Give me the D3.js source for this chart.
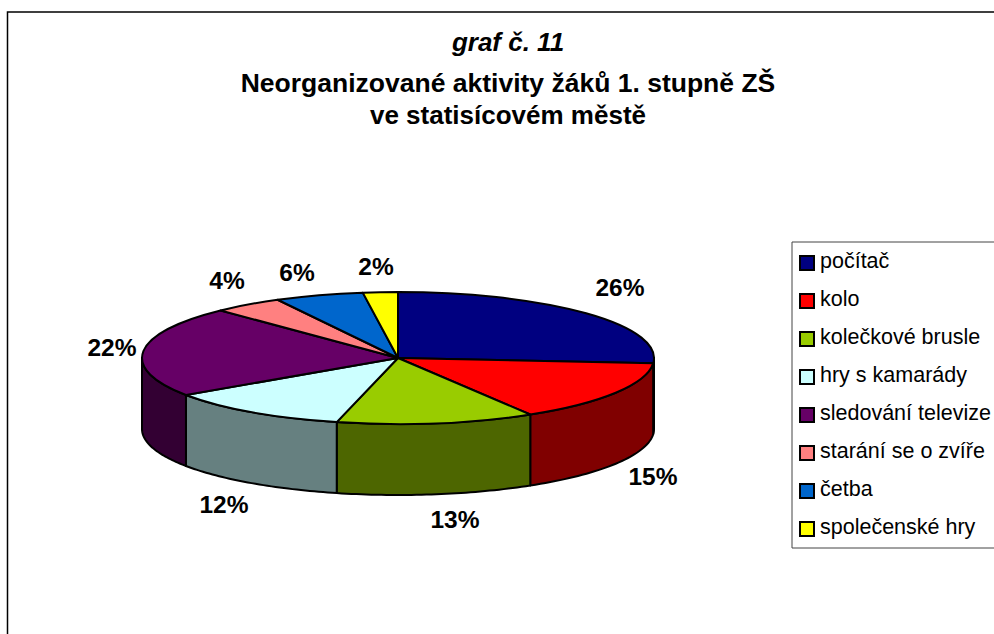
<!DOCTYPE html>
<html><head><meta charset="utf-8">
<script src="https://cdn.jsdelivr.net/npm/d3@7"></script>
<style>html,body{margin:0;padding:0;background:#fff}svg{display:block}text{font-family:"Liberation Sans",Arial,sans-serif;fill:#000}</style>
</head><body><svg id="c" width="994" height="634"></svg>
<script>
const categories=["počítač","kolo","kolečkové brusle","hry s kamarády","sledování televize","starání se o zvíře","četba","společenské hry"];
const values=[26.3,15.1,12.5,11.7,22.3,4.4,5.6,2.2];
const topColors=["#000080","#FF0000","#99CC00","#CCFFFF","#660066","#FF8080","#0066CC","#FFFF00"];
const sideColors=["#000040","#800000","#4D6600","#668080","#330033","#804040","#003366","#808000"];
const titleLines=["graf č. 11","Neorganizované aktivity žáků 1. stupně ZŠ","ve statisícovém městě"];

const W=994,H=634,cx=398,cy=358,rx=256,ry=66,depth=71;
const svg=d3.select("#c");
svg.append("path").attr("d",d3.line()([[7.5,634],[7.5,12],[994,12]])).attr("fill","none").attr("stroke","#000").attr("stroke-width",1.5);

const tl=svg.append("g").attr("text-anchor","middle");
titleLines.forEach((t,i)=>tl.append("text").attr("x",508).attr("y",[51,92,124][i]).attr("font-size",i===1?26.5:26).attr("font-weight","bold").attr("font-style",i===0?"italic":"normal").text(t));

const pieData=d3.pie().sort(null).value(d=>d)(values);
const px=a=>cx+rx*Math.sin(a), py=a=>cy-ry*Math.cos(a);
const wall=d3.line();
const g=svg.append("g");
// side walls: visible front half only
pieData.forEach((d,i)=>{
  const a0=Math.max(d.startAngle,Math.PI/2),a1=Math.min(d.endAngle,Math.PI*1.5);
  if(a1<=a0)return;
  const as=d3.range(0,41).map(k=>a0+(a1-a0)*k/40);
  const pts=as.map(a=>[px(a),py(a)]).concat(as.slice().reverse().map(a=>[px(a),py(a)+depth]));
  g.append("path").attr("d",wall(pts)+"Z").attr("fill",sideColors[i]).attr("stroke","#000").attr("stroke-width",2).attr("stroke-linejoin","round");
});
// top slices
const arc=d3.arc().innerRadius(0).outerRadius(rx);
const topG=g.append("g").attr("transform",`translate(${cx},${cy}) scale(1,${ry/rx})`);
pieData.forEach((d,i)=>{
  topG.append("path").attr("d",arc(d)).attr("fill",topColors[i]).attr("stroke","#000").attr("stroke-width",2).attr("stroke-linejoin","round").attr("vector-effect","non-scaling-stroke");
});
// percent labels
const lblPos=[[620,296],[653,485],[455,528],[224,513],[112,356],[227,289],[297,281],[376,275]];
const lg=svg.append("g").attr("text-anchor","middle");
values.forEach((v,i)=>lg.append("text").attr("x",lblPos[i][0]).attr("y",lblPos[i][1]).attr("font-size",24.5).attr("font-weight","bold").text(Math.round(v)+"%"));

// legend
svg.append("path").attr("d",d3.line()([[994,242],[792,242],[792,548],[994,548]])).attr("fill","none").attr("stroke","#444").attr("stroke-width",1);
const y=d3.scalePoint().domain(categories).range([263,529]);
const lr=svg.append("g").selectAll("g").data(categories).join("g").attr("transform",d=>`translate(0,${y(d)})`);
lr.append("rect").attr("x",800).attr("y",-7).attr("width",14).attr("height",14).attr("fill",(d,i)=>topColors[i]).attr("stroke","#000").attr("stroke-width",2);
lr.append("text").attr("x",820).attr("y",5).attr("font-size",21.5).text(d=>d);
</script></body></html>
